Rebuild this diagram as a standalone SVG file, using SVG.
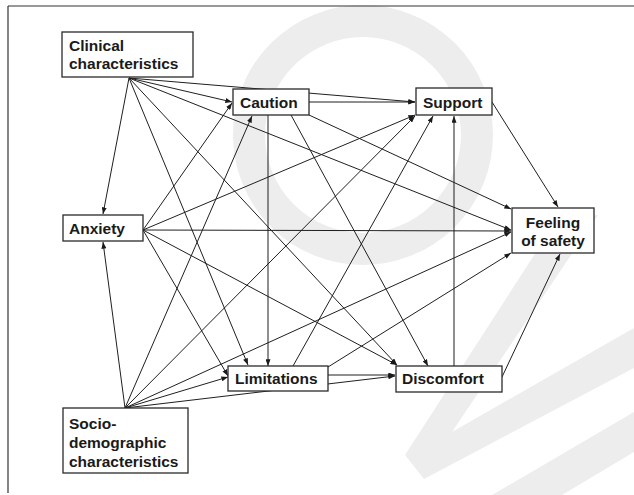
<svg xmlns="http://www.w3.org/2000/svg" width="634" height="495" viewBox="0 0 634 495">
<defs>
<marker id="ah" viewBox="0 0 8 6" refX="8" refY="3" markerWidth="7" markerHeight="5" markerUnits="userSpaceOnUse" orient="auto">
<path d="M0,0 L8,3 L0,6 z" fill="#1a1a1a"/>
</marker>
<style>
.box{fill:#fff;stroke:#2a2a2a;stroke-width:1.3}
.t{font-family:"Liberation Sans",Arial,sans-serif;font-weight:bold;font-size:15.5px;fill:#1a1a1a}
.e line{stroke:#1f1f1f;stroke-width:1;marker-end:url(#ah)}
.wm{fill:#ededed;stroke:none}
</style>
</defs>
<rect width="634" height="495" fill="#fff"/>
<g id="watermark">
<circle cx="363" cy="135" r="114" fill="none" stroke="#ededed" stroke-width="32"/>
<polygon class="wm" points="560,215 598,215 452,432 634,328 634,368 424,479 405,455"/>
<polygon class="wm" points="492,495 634,412 634,452 562,495"/>
</g>
<g id="frame" stroke="#333" stroke-width="1.2" fill="none">
<line x1="8" y1="6" x2="634" y2="6"/>
<line x1="8" y1="6" x2="8" y2="493"/>
</g>
<g id="connectors" class="e">
<line x1="129" y1="78" x2="103" y2="214"/>
<line x1="129" y1="78" x2="232" y2="102"/>
<line x1="129" y1="78" x2="415" y2="102"/>
<line x1="129" y1="78" x2="511" y2="230"/>
<line x1="129" y1="78" x2="248" y2="365"/>
<line x1="129" y1="78" x2="397" y2="365"/>
<line x1="125" y1="408" x2="103" y2="242"/>
<line x1="125" y1="408" x2="252" y2="116"/>
<line x1="125" y1="408" x2="415" y2="116"/>
<line x1="125" y1="408" x2="511" y2="232"/>
<line x1="125" y1="408" x2="228" y2="377"/>
<line x1="125" y1="408" x2="395" y2="376"/>
<line x1="143" y1="230" x2="232" y2="103"/>
<line x1="143" y1="230" x2="415" y2="115"/>
<line x1="143" y1="230" x2="511" y2="231"/>
<line x1="143" y1="230" x2="228" y2="376"/>
<line x1="143" y1="230" x2="397" y2="365"/>
<line x1="309" y1="102" x2="415" y2="102"/>
<line x1="268" y1="115" x2="268" y2="366"/>
<line x1="291" y1="115" x2="428" y2="366"/>
<line x1="309" y1="115" x2="511" y2="209"/>
<line x1="328" y1="375" x2="395" y2="375"/>
<line x1="293" y1="366" x2="433" y2="116"/>
<line x1="328" y1="367" x2="511" y2="253"/>
<line x1="454" y1="366" x2="454" y2="116"/>
<line x1="502" y1="377" x2="560" y2="254"/>
<line x1="492" y1="102" x2="558" y2="207"/>
</g>
<g id="clinical">
<rect class="box" x="62" y="32" width="131" height="45"/>
<text class="t" x="69" y="51">Clinical</text>
<text class="t" x="69" y="69">characteristics</text>
</g>
<g id="caution">
<rect class="box" x="233" y="89" width="76" height="26"/>
<text class="t" x="240" y="108">Caution</text>
</g>
<g id="support">
<rect class="box" x="416" y="88" width="76" height="27"/>
<text class="t" x="423" y="108">Support</text>
</g>
<g id="anxiety">
<rect class="box" x="63" y="215" width="80" height="26"/>
<text class="t" x="69" y="234">Anxiety</text>
</g>
<g id="feeling">
<rect class="box" x="512" y="208" width="82" height="45"/>
<text class="t" x="553" y="228" text-anchor="middle">Feeling</text>
<text class="t" x="553" y="246" text-anchor="middle">of safety</text>
</g>
<g id="limitations">
<rect class="box" x="228" y="366" width="100" height="25"/>
<text class="t" x="235" y="384">Limitations</text>
</g>
<g id="discomfort">
<rect class="box" x="396" y="366" width="106" height="26"/>
<text class="t" x="402" y="384">Discomfort</text>
</g>
<g id="sociodemographic">
<rect class="box" x="63" y="408" width="125" height="65"/>
<text class="t" x="69" y="429">Socio-</text>
<text class="t" x="69" y="448">demographic</text>
<text class="t" x="69" y="467">characteristics</text>
</g>
</svg>
